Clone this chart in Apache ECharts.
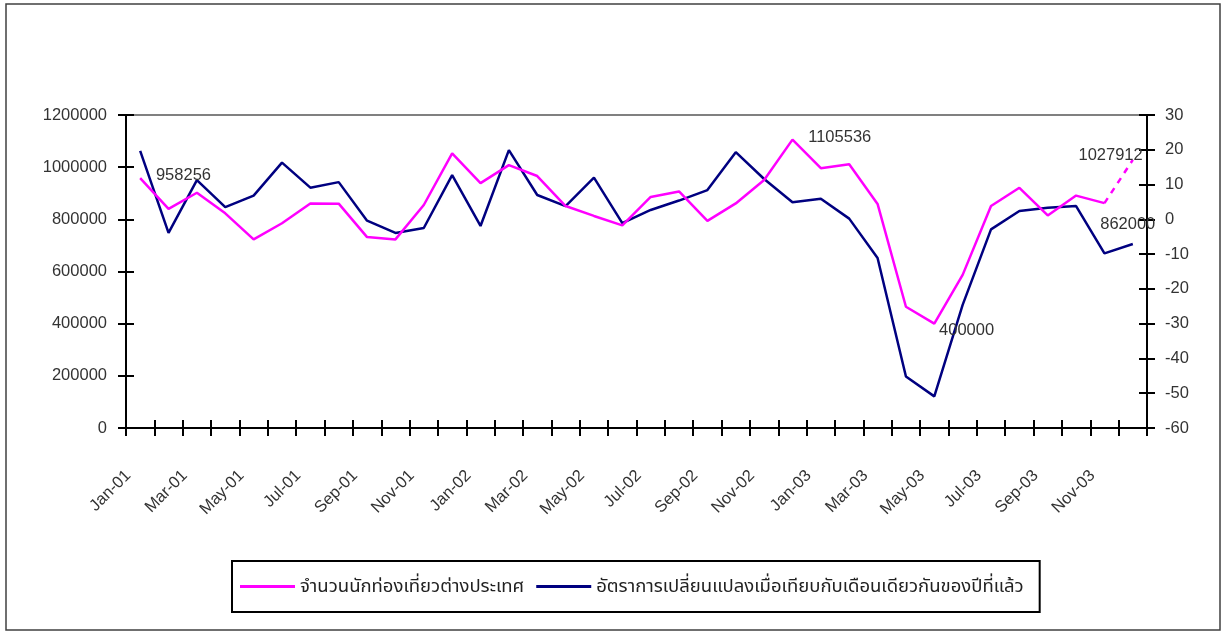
<!DOCTYPE html>
<html>
<head>
<meta charset="utf-8">
<script src="https://cdn.jsdelivr.net/npm/echarts@6/dist/echarts.min.js"></script>
<style>
html,body{margin:0;padding:0;background:#fff;}
#chart{width:1225px;height:633px;}
</style>
</head>
<body>
<div id="chart"></div>
<script>
const categories = ['Jan-01','Feb-01','Mar-01','Apr-01','May-01','Jun-01','Jul-01','Aug-01','Sep-01','Oct-01','Nov-01','Dec-01',
  'Jan-02','Feb-02','Mar-02','Apr-02','May-02','Jun-02','Jul-02','Aug-02','Sep-02','Oct-02','Nov-02','Dec-02',
  'Jan-03','Feb-03','Mar-03','Apr-03','May-03','Jun-03','Jul-03','Aug-03','Sep-03','Oct-03','Nov-03','Dec-03'];

const visitors = [958256, 840000, 902000, 823000, 723000, 785000, 861000, 860000, 732000, 723000, 855000, 1053000,
  939000, 1008000, 966000, 851000, 813000, 777000, 886000, 907000, 794000, 861000, 951000, 1105536,
  996000, 1011000, 859000, 465000, 400000, 587000, 851000, 921000, 815000, 891000, 862000, 1027912];

const changePct = [19.7, -3.9, 11.3, 3.5, 6.8, 16.3, 9.1, 10.7, -0.4, -3.9, -2.5, 12.7,
  -1.9, 19.9, 7.0, 3.8, 12.0, -1.1, 2.7, 5.4, 8.4, 19.3, 11.6, 4.9,
  5.9, 0.2, -11.1, -45.2, -50.9, -24.6, -2.9, 2.4, 3.3, 3.8, -9.8, -7.1];

const leftTicks = {min: 0, max: 1200000, interval: 200000};
const rightTicks = {min: -60, max: 30, interval: 10};

const seriesNames = ['จำนวนนักท่องเที่ยวต่างประเทศ', 'อัตราการเปลี่ยนแปลงเมื่อเทียบกับเดือนเดียวกันของปีที่แล้ว'];

const FONT = '"Liberation Sans", Arial, "Noto Sans Thai", "Noto Sans", sans-serif';
const TXT = '#333333';
const lastIdx = visitors.length - 1;

// label placement for annotated points (index -> [dx, dy, align])
const labelPlace = {
  0: [16, -2, 'left'],
  23: [16, -1.5, 'left'],
  28: [5, 7, 'left'],
  34: [-4, 22, 'left'],
  35: [-22, -4, 'center']
};

function withLabels(arr, keep) {
  return arr.map((v, i) => {
    if (!keep(i)) return null;
    const p = labelPlace[i];
    if (!p) return v;
    return {
      value: v,
      label: {
        show: true, position: [p[0], p[1]], align: p[2], verticalAlign: 'middle',
        formatter: String(v), color: TXT, fontSize: 16.5, fontFamily: FONT
      }
    };
  });
}

const chart = echarts.init(document.getElementById('chart'));

const tickCommon = {show: true, length: 8, lineStyle: {color: '#000', width: 2}};
const plain = v => String(v);

chart.setOption({
  animation: false,
  backgroundColor: '#fff',
  textStyle: {fontFamily: FONT},
  graphic: [{
    type: 'rect', shape: {x: 6, y: 4, width: 1214, height: 626},
    style: {fill: 'none', stroke: '#404040', lineWidth: 1.5}, silent: true
  }],
  grid: {left: 126, right: 78, top: 115, bottom: 205, show: true, borderColor: '#808080', borderWidth: 2},
  legend: {
    left: 232, top: 561,
    data: seriesNames,
    icon: 'rect', itemWidth: 55, itemHeight: 3, itemGap: 12,
    borderColor: '#000', borderWidth: 2,
    padding: [16, 16, 16, 8],
    textStyle: {fontSize: 18.5, color: '#222', fontFamily: FONT},
    selectedMode: false
  },
  xAxis: [{
    type: 'category', data: categories, boundaryGap: true,
    axisLine: {show: true, onZero: false, lineStyle: {color: '#000', width: 2}},
    axisTick: Object.assign({interval: 0, inside: false}, tickCommon),
    axisLabel: {interval: 1, rotate: 45, margin: 33, padding: [0, 17, 0, 0], fontSize: 16.5, color: TXT, fontFamily: FONT},
    splitLine: {show: false}
  }, {
    type: 'category', data: categories, boundaryGap: true, position: 'bottom',
    axisLine: {show: false, onZero: false},
    axisTick: Object.assign({interval: 0, inside: true}, tickCommon),
    axisLabel: {show: false}, splitLine: {show: false}
  }],
  yAxis: [{
    type: 'value', position: 'left', min: leftTicks.min, max: leftTicks.max, interval: leftTicks.interval,
    axisLine: {show: true, lineStyle: {color: '#000', width: 2}},
    axisTick: Object.assign({inside: false}, tickCommon),
    axisLabel: {margin: 19, fontSize: 16.5, color: TXT, fontFamily: FONT, formatter: plain},
    splitLine: {show: false}
  }, {
    type: 'value', position: 'right', min: rightTicks.min, max: rightTicks.max, interval: rightTicks.interval,
    axisLine: {show: true, lineStyle: {color: '#000', width: 2}},
    axisTick: Object.assign({inside: false}, tickCommon),
    axisLabel: {margin: 18, fontSize: 16.5, color: TXT, fontFamily: FONT, formatter: plain},
    splitLine: {show: false}
  }, {
    type: 'value', position: 'left', min: leftTicks.min, max: leftTicks.max, interval: leftTicks.interval,
    axisLine: {show: false}, axisTick: Object.assign({inside: true}, tickCommon),
    axisLabel: {show: false}, splitLine: {show: false}
  }, {
    type: 'value', position: 'right', min: rightTicks.min, max: rightTicks.max, interval: rightTicks.interval,
    axisLine: {show: false}, axisTick: Object.assign({inside: true}, tickCommon),
    axisLabel: {show: false}, splitLine: {show: false}
  }],
  series: [{
    name: seriesNames[0], type: 'line', xAxisIndex: 0, yAxisIndex: 0,
    data: withLabels(visitors, i => i < lastIdx),
    showSymbol: true, symbol: 'circle', symbolSize: 0.5,
    itemStyle: {color: '#FF00FF'},
    lineStyle: {color: '#FF00FF', width: 2.5},
    emphasis: {disabled: true}, silent: true, z: 3
  }, {
    name: 'dotted', type: 'line', xAxisIndex: 0, yAxisIndex: 0,
    data: withLabels(visitors, i => i >= lastIdx - 1).map((d, i) => (i === lastIdx - 1 && d && d.value !== undefined) ? d.value : d),
    showSymbol: true, symbol: 'circle', symbolSize: 0.5,
    itemStyle: {color: '#FF00FF'},
    lineStyle: {color: '#FF00FF', width: 2.5, type: [6, 6]},
    emphasis: {disabled: true}, silent: true, z: 3
  }, {
    name: seriesNames[1], type: 'line', xAxisIndex: 0, yAxisIndex: 1,
    data: changePct,
    showSymbol: false, symbol: 'none',
    itemStyle: {color: '#000080'},
    lineStyle: {color: '#000080', width: 2.5},
    emphasis: {disabled: true}, silent: true, z: 2
  }]
});
</script>
</body>
</html>
